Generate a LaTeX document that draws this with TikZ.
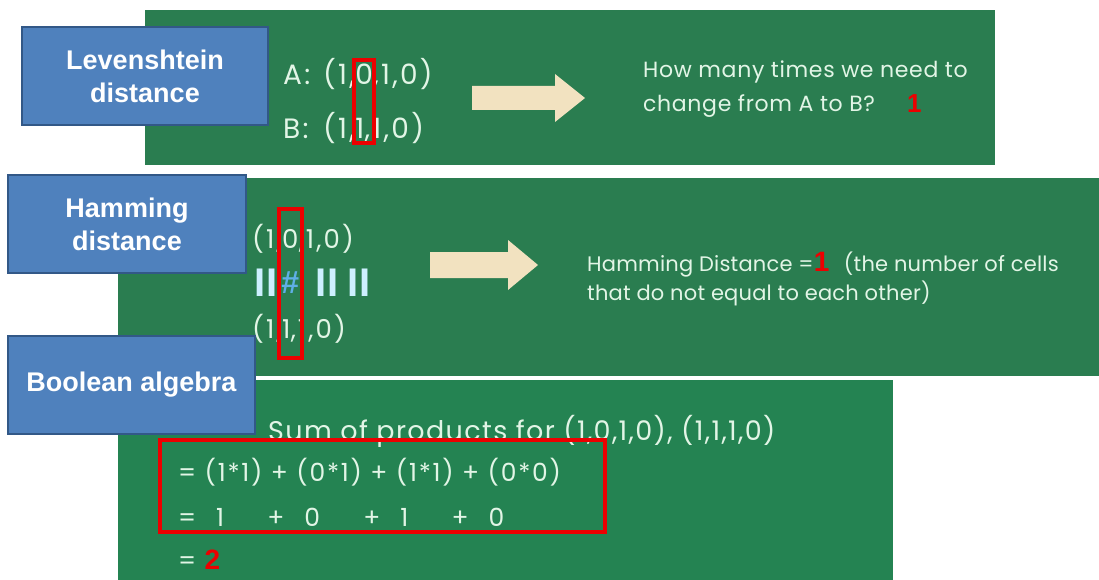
\documentclass[tikz,border=0pt]{standalone}
\usepackage{fontspec}
\setmainfont{Poppins}
\newfontfamily\arialfont{Liberation Sans}
\usetikzlibrary{positioning,fit}
\definecolor{boardgreen}{RGB}{42,125,80}
\definecolor{boardgreenb}{RGB}{36,131,82}
\definecolor{tagblue}{RGB}{79,129,189}
\definecolor{tagborder}{RGB}{50,88,135}
\definecolor{chalkwhite}{RGB}{226,245,230}
\definecolor{arrowbeige}{RGB}{242,226,192}
\definecolor{markred}{RGB}{236,0,0}
\definecolor{barcyan}{RGB}{205,240,255}
\definecolor{neqblue}{RGB}{95,175,230}
\begin{document}
\begin{tikzpicture}[x=1pt,y=-1pt,
	tag/.style={fill=tagblue,draw=tagborder,line width=1.5pt,text=white,align=center,inner sep=0pt,
		font=\arialfont\bfseries\fontsize{27}{33}\selectfont,minimum height=98pt},
	chalk/.style={text=chalkwhite,inner sep=0pt,anchor=base west},
	tuple/.style={chalk,font=\addfontfeature{LetterSpace=8}\fontsize{28}{34}\selectfont},
	note/.style={chalk,font=\addfontfeature{LetterSpace=1}\fontsize{21}{25}\selectfont},
	redbox/.style={draw=markred,line width=4pt},
	rednum/.style={text=markred,inner sep=0pt,anchor=base west,font=\arialfont\bfseries\fontsize{28}{34}\selectfont},
	bars/.style={text=barcyan,inner sep=0pt,font=\arialfont\bfseries\fontsize{40}{40}\selectfont},
	arrowfill/.style={fill=arrowbeige}]
	\fill[white] (0,0) rectangle (1099,580);
	\useasboundingbox (0,0) rectangle (1099,580);
	% green boards
	\fill[boardgreen] (145,10) rectangle (995,165);
	\fill[boardgreen] (118,178) rectangle (1099,376);
	\fill[boardgreenb] (118,380) rectangle (893,580);
	% Levenshtein
	\node[tuple] (lA) at (283,85) {A:};
	\node[tuple] (la1) at (323,85) {(1,};
	\node[tuple] (la2) at (la1.base east) {0};
	\node[tuple] (la3) at (la2.base east) {,1,0)};
	\node[tuple] (lB) at (283,139) {B:};
	\node[tuple] (lb1) at (323,139) {(1,};
	\node[tuple] (lb2) at (lb1.base east) {1};
	\node[tuple] (lb3) at (lb2.base east) {,1,0)};
	\node[redbox,fit=(la2)(lb2),inner xsep=1pt,inner ysep=4pt] (lmark) {};
	\fill[arrowfill] (472,86) -- (555,86) -- (555,74) -- (585,98) -- (555,122) -- (555,110) -- (472,110) -- cycle;
	\node[note,font=\addfontfeature{LetterSpace=3}\fontsize{22}{26}\selectfont] (lq1) at (643,78) {How many times we need to};
	\node[note,font=\addfontfeature{LetterSpace=3}\fontsize{22}{26}\selectfont] (lq2) at (643,112) {change from A to B?};
	\node[rednum,font=\arialfont\bfseries\fontsize{26}{30}\selectfont] (lans) at (907,113) {1};
	\node[tag,minimum width=246pt] (lev) at (145,76) {Levenshtein\\distance};
	% Hamming
	\node[tuple,font=\addfontfeature{LetterSpace=8}\fontsize{26}{30}\selectfont] (ha1) at (252,248) {(1,};
	\node[tuple,font=\addfontfeature{LetterSpace=8}\fontsize{26}{30}\selectfont] (ha2) at (ha1.base east) {0};
	\node[tuple,font=\addfontfeature{LetterSpace=8}\fontsize{26}{30}\selectfont] (ha3) at (ha2.base east) {,1,0)};
	\node[tuple,font=\addfontfeature{LetterSpace=8}\fontsize{26}{30}\selectfont] (hb1) at (252,338) {(1,};
	\node[tuple,font=\addfontfeature{LetterSpace=8}\fontsize{26}{30}\selectfont] (hb2) at (hb1.base east) {1};
	\node[tuple,font=\addfontfeature{LetterSpace=8}\fontsize{26}{30}\selectfont] (hb3) at (hb2.base east) {,1,0)};
	\node[bars] (bar1) at (266,283) {II};
	\node[bars,text=neqblue,font=\arialfont\bfseries\fontsize{32}{32}\selectfont] (neq) at (ha2 |- bar1) {\#};
	\node[bars] (bar3) at (327,283) {II};
	\node[bars] (bar4) at (359,283) {II};
	\node[redbox,fit=(ha2)(hb2),inner xsep=3pt,inner ysep=20pt] (hmark) {};
	\fill[arrowfill] (430,252) -- (508,252) -- (508,240) -- (538,265) -- (508,290) -- (508,278) -- (430,278) -- cycle;
	\node[note] (hq1) at (587,271) {Hamming Distance =};
	\node[rednum] (hans) at (hq1.base east) {1};
	\node[note,xshift=14pt] (hq2) at (hans.base east) {(the number of cells};
	\node[note] (hq3) at (587,300) {that do not equal to each other)};
	\node[tag,minimum width=238pt] (ham) at (127,224) {Hamming\\distance};
	% Boolean algebra
	\node[tuple,font=\addfontfeature{LetterSpace=5}\fontsize{27}{32}\selectfont] (bsum) at (268,440) {Sum of products for (1,0,1,0), (1,1,1,0)};
	\node[tuple,font=\addfontfeature{LetterSpace=7}\fontsize{25}{30}\selectfont] (beq1) at (178,481) {= (1*1) + (0*1) + (1*1) + (0*0)};
	\node[tuple,font=\addfontfeature{LetterSpace=7}\fontsize{25}{30}\selectfont] (beq2) at (178,526)
		{= \phantom{(}1\phantom{*1)} + \phantom{(}0\phantom{*1)} + \phantom{(}1\phantom{*1)} + \phantom{(}0\phantom{*0)}};
	\node[tuple,font=\addfontfeature{LetterSpace=7}\fontsize{25}{30}\selectfont] (beq3) at (178,569)
		{= {\color{markred}\arialfont\bfseries\fontsize{28}{34}\selectfont 2}};
	\draw[redbox] (160,440) rectangle (605,532);
	\node[tag,minimum width=247pt] (bool) at (131.5,385) {Boolean algebra};
\end{tikzpicture}
\end{document}
